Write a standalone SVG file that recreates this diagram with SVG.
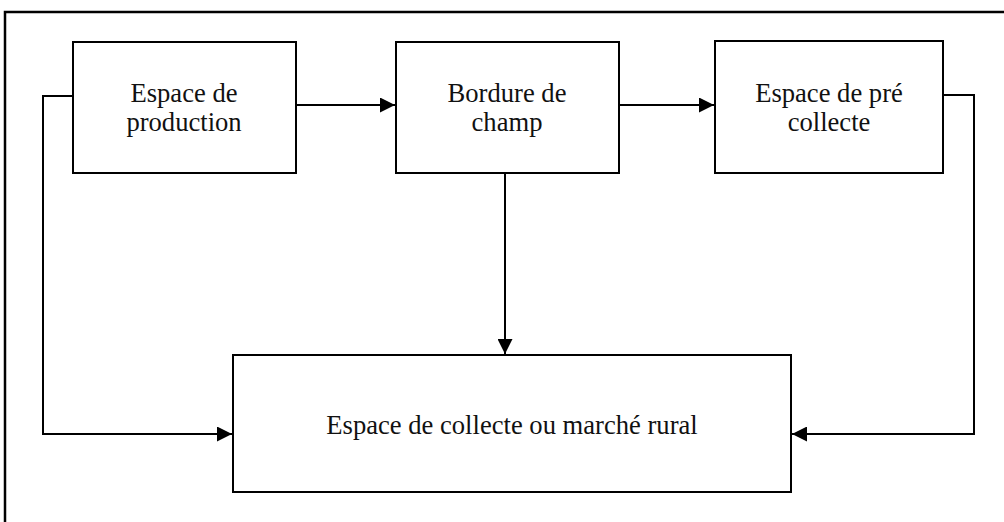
<svg xmlns="http://www.w3.org/2000/svg" width="1004" height="522" viewBox="0 0 1004 522">
<style>
.box{fill:#fff;stroke:#000;stroke-width:2}
.lbl{font-family:"Liberation Serif","Times New Roman",serif;font-size:26.6px;fill:#111;text-anchor:middle}
.con{fill:none;stroke:#000;stroke-width:2}
</style>
<defs>
<marker id="ah" markerWidth="15" markerHeight="15" refX="15" refY="7.5" orient="auto" markerUnits="userSpaceOnUse">
<path d="M0,0 L15,7.5 L0,15 Z" fill="#000"/>
</marker>
</defs>
<rect width="1004" height="522" fill="#fff"/>
<path d="M5,522 L5,12 L1004,12" fill="none" stroke="#000" stroke-width="2.5"/>
<g id="connectors">
<path class="con" d="M73,96 L43,96 L43,434 L232,434" marker-end="url(#ah)"/>
<path class="con" d="M296,105 L395,105" marker-end="url(#ah)"/>
<path class="con" d="M619,105 L714,105" marker-end="url(#ah)"/>
<path class="con" d="M943,95 L974,95 L974,434 L792,434" marker-end="url(#ah)"/>
<path class="con" d="M505,173 L505,354" marker-end="url(#ah)"/>
</g>
<g id="production">
<rect class="box" x="73" y="42" width="223" height="131"/>
<text class="lbl" x="184" y="102">Espace de</text>
<text class="lbl" x="184" y="131">production</text>
</g>
<g id="bordure">
<rect class="box" x="396" y="42" width="223" height="131"/>
<text class="lbl" x="507" y="102">Bordure de</text>
<text class="lbl" x="507" y="131">champ</text>
</g>
<g id="precollecte">
<rect class="box" x="715" y="41" width="228" height="132"/>
<text class="lbl" x="829" y="102">Espace de pré</text>
<text class="lbl" x="829" y="131">collecte</text>
</g>
<g id="collecte">
<rect class="box" x="233" y="355" width="558" height="137"/>
<text class="lbl" x="512" y="434">Espace de collecte ou marché rural</text>
</g>
</svg>
